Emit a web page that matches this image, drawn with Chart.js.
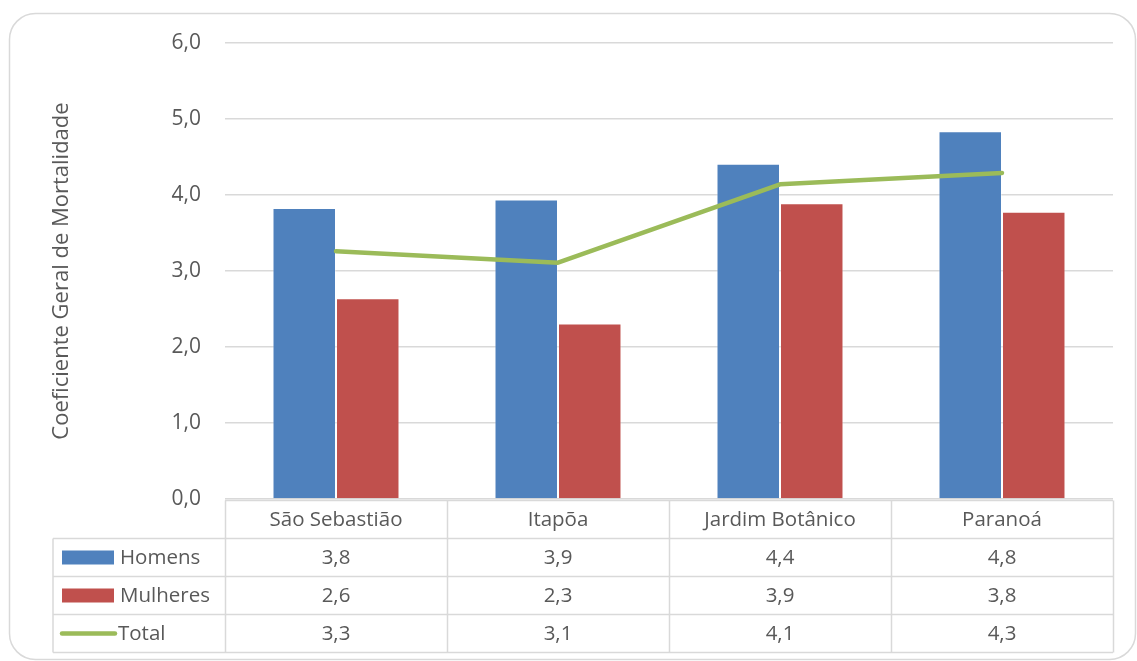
<!DOCTYPE html>
<html>
<head>
<meta charset="utf-8">
<script src="https://cdn.jsdelivr.net/npm/chart.js@4/dist/chart.umd.min.js"></script>
<style>
  html, body { margin: 0; padding: 0; background: #ffffff; }
  #wrap { width: 1137px; height: 661px; }
</style>
</head>
<body>
<div id="wrap"><canvas id="c" width="1137" height="661"></canvas></div>
<script>
// Regions and coefficients per sex
const categories = ['São Sebastião', 'Itapõa', 'Jardim Botânico', 'Paranoá'];
const homens = [3.83, 3.94, 4.41, 4.84];
const mulheres = [2.64, 2.31, 3.89, 3.78];
const total = [3.26, 3.11, 4.14, 4.29];
const yTicks = [0, 1, 2, 3, 4, 5, 6];

const seriesNames = ['Homens', 'Mulheres', 'Total'];
const seriesValues = [homens, mulheres, total];

const BLUE = '#4F81BD', RED = '#C0504D', GREEN = '#9BBB59';
const TEXT = '#595959', RULE = '#d9d9d9';
const FONT = '"Open Sans", "Noto Sans", sans-serif';

const fmt = v => v.toFixed(1).replace('.', ',');

// Rounded frame around the whole figure
const framePlugin = {
  id: 'frame',
  beforeDraw(chart) {
    const ctx = chart.ctx;
    ctx.save();
    ctx.strokeStyle = RULE;
    ctx.lineWidth = 1.5;
    ctx.beginPath();
    ctx.roundRect(9.5, 13.5, 1126, 646, 26);
    ctx.stroke();
    ctx.restore();
  }
};

// Data table under the plot: category header + one row per series
const tablePlugin = {
  id: 'dataTable',
  afterDraw(chart) {
    const ctx = chart.ctx;
    const xs = chart.scales.x;
    const n = categories.length;
    const colW = (xs.right - xs.left) / n;
    const top = chart.chartArea.bottom + 1.5;
    const rowH = 38;
    const labelLeft = 53;
    const right = xs.right;
    const gridLeft = xs.left;

    ctx.save();
    ctx.strokeStyle = RULE;
    ctx.lineWidth = 1.5;

    // horizontal rules
    ctx.beginPath();
    ctx.moveTo(gridLeft, top); ctx.lineTo(right, top);
    for (let r = 1; r <= 4; r++) {
      const y = top + r * rowH;
      ctx.moveTo(labelLeft, y); ctx.lineTo(right, y);
    }
    // vertical rules
    ctx.moveTo(labelLeft, top + rowH); ctx.lineTo(labelLeft, top + 4 * rowH);
    for (let i = 0; i <= n; i++) {
      const x = Math.round(gridLeft + i * colW) + 0.5;
      ctx.moveTo(x, top); ctx.lineTo(x, top + 4 * rowH);
    }
    ctx.stroke();

    ctx.fillStyle = TEXT;
    ctx.font = '20.5px ' + FONT;
    ctx.textBaseline = 'middle';
    ctx.textAlign = 'center';
    categories.forEach((c, i) => {
      ctx.fillText(c, xs.getPixelForValue(i), top + rowH / 2 + 1);
    });

    seriesNames.forEach((name, r) => {
      const yc = top + (r + 1) * rowH + rowH / 2 + 1;
      // legend key
      if (r === 0 || r === 1) {
        ctx.fillStyle = r === 0 ? BLUE : RED;
        ctx.fillRect(62, yc - 8, 52, 14);
      } else {
        ctx.strokeStyle = GREEN;
        ctx.lineWidth = 4.5;
        ctx.lineCap = 'round';
        ctx.beginPath();
        ctx.moveTo(62, yc - 1); ctx.lineTo(115, yc - 1);
        ctx.stroke();
      }
      ctx.fillStyle = TEXT;
      ctx.textAlign = 'left';
      ctx.fillText(name, r === 2 ? 118 : 120, yc);
      ctx.textAlign = 'center';
      seriesValues[r].forEach((v, i) => {
        ctx.fillText(fmt(v), xs.getPixelForValue(i), yc);
      });
    });
    ctx.restore();
  }
};

new Chart(document.getElementById('c'), {
  type: 'bar',
  data: {
    labels: categories,
    datasets: [
      {
        type: 'line', label: 'Total', data: total,
        borderColor: GREEN, backgroundColor: GREEN,
        borderWidth: 4.5, pointRadius: 0, tension: 0,
        borderCapStyle: 'round', borderJoinStyle: 'round', order: 0
      },
      {
        label: 'Homens', data: homens, backgroundColor: BLUE,
        borderColor: 'rgba(255,255,255,0.35)', borderWidth: 1,
        categoryPercentage: 0.572, barPercentage: 1, order: 1
      },
      {
        label: 'Mulheres', data: mulheres, backgroundColor: RED,
        borderColor: 'rgba(255,255,255,0.35)', borderWidth: 1,
        categoryPercentage: 0.572, barPercentage: 1, order: 1
      }
    ]
  },
  options: {
    responsive: false,
    animation: false,
    layout: { padding: { left: 46, top: 43, right: 24, bottom: 162 } },
    plugins: { legend: { display: false }, tooltip: { enabled: false } },
    scales: {
      x: {
        display: false,
        grid: { display: false }
      },
      y: {
        min: 0, max: 6,
        afterBuildTicks: s => { s.ticks = yTicks.map(v => ({ value: v })); },
        afterFit: s => { s.width = 179; },
        border: { display: false },
        grid: { color: RULE, lineWidth: 1.5, drawTicks: false },
        ticks: {
          color: TEXT, padding: 24,
          font: { family: FONT, size: 21 },
          callback: v => fmt(v)
        },
        title: {
          display: true, text: 'Coeficiente Geral de Mortalidade',
          color: TEXT, font: { family: FONT, size: 22 },
          padding: { top: 3, bottom: 4 }
        }
      }
    }
  },
  plugins: [framePlugin, tablePlugin]
});
</script>
</body>
</html>
